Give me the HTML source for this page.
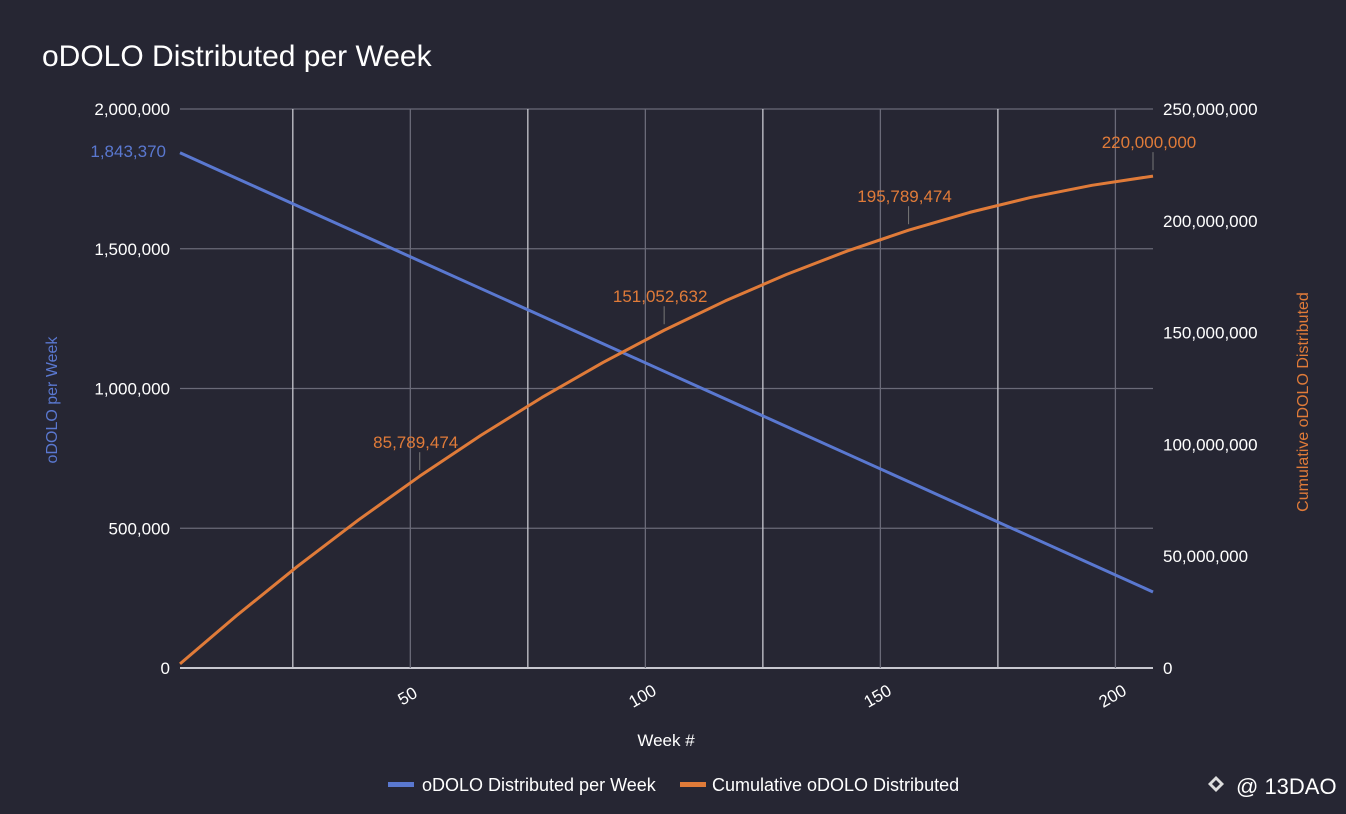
<!DOCTYPE html>
<html><head><meta charset="utf-8"><style>
body{margin:0;background:#262633;font-family:"Liberation Sans",sans-serif;}
svg{display:block}
</style></head><body>
<svg width="1346" height="814" viewBox="0 0 1346 814">
<rect width="1346" height="814" fill="#262633"/>
<text x="42" y="66" font-size="30" fill="#ffffff">oDOLO Distributed per Week</text>
<g id="grid"></g><g id="axes"></g><g id="series"></g><g id="labels"></g>
<text x="666" y="746" font-size="17" fill="#ffffff" text-anchor="middle">Week #</text>
<text transform="translate(57,400) rotate(-90)" font-size="16" fill="#5a78d0" text-anchor="middle">oDOLO per Week</text>
<text transform="translate(1308,402) rotate(-90)" font-size="16" fill="#e07b39" text-anchor="middle">Cumulative oDOLO Distributed</text>
<g>
<g><rect x="388" y="782" width="26" height="5" fill="#5a78d0"/><text x="422" y="791" font-size="18" fill="#ffffff">oDOLO Distributed per Week</text></g>
<g><rect x="680" y="782" width="26" height="5" fill="#e07b39"/><text x="712" y="791" font-size="18" fill="#ffffff">Cumulative oDOLO Distributed</text></g>
</g>
<g><path d="M1216 776 l8 8 l-8 8 l-8 -8z M1216 780 l4 4 l-4 4 l-4 -4z" fill="#ddd" fill-rule="evenodd"/><text x="1236" y="794" font-size="22" fill="#ffffff">@ 13DAO</text></g>
</svg>
<script>
const weeks=[1,13,26,39,52,65,78,91,104,117,130,143,156,169,182,195,208];
const weekly=[1843370,1752278,1653593,1554908,1456225,1357541,1258856,1160172,1061488,962803,864118,765434,666749,568064,469380,370695,272017];
const cumulative=[1843370,23371706,45460519,66266440,85789474,104029604,120986847,136661197,151052632,164162221,175986894,186529675,195789474,203766558,210460661,215872872,220000000];
const leftTicks=[0,500000,1000000,1500000,2000000];
const rightTicks=[0,50000000,100000000,150000000,200000000,250000000];
const xTicks=[50,100,150,200];
const gridWeeks=[25,50,75,100,125,150,175,200];
const annWeeks=[52,104,156,208];
const annValues=[85789474,151052632,195789474,220000000];

const NS="http://www.w3.org/2000/svg";
const X0=180,X1=1153,YT=109,YB=668;
const x=w=>X0+(w-1)*(X1-X0)/207;
const yL=v=>YB-v/2000000*(YB-YT);
const yR=v=>YB-v/250000000*(YB-YT);
const fmt=v=>v.toLocaleString('en-US');
function mk(tag,attrs,parent,txt){const e=document.createElementNS(NS,tag);for(const k in attrs)e.setAttribute(k,attrs[k]);if(txt!==undefined)e.textContent=txt;document.getElementById(parent).appendChild(e);return e;}
leftTicks.forEach(v=>{
 const l=mk('line',{x1:X0,x2:X1,y1:yL(v),y2:yL(v),stroke:v===0?'#c8c8d0':'#6a6a78','stroke-width':v===0?2:1.3},'grid');
 
 
 const t=mk('text',{x:170,y:yL(v)+6,'font-size':17,fill:'#fff','text-anchor':'end'},'axes',fmt(v));
 
 
});
rightTicks.forEach(v=>{
 const t=mk('text',{x:1163,y:yR(v)+6,'font-size':17,fill:'#fff'},'axes',fmt(v));
 
 
});
gridWeeks.forEach((w,i)=>{
 const l=mk('line',{x1:x(w),x2:x(w),y1:YT,y2:YB,stroke:i%2===0?'#c8c8d0':'#6a6a78','stroke-width':1.3},'grid');
 
 
});
xTicks.forEach(w=>{
 const t=mk('text',{x:0,y:0,'font-size':17,fill:'#fff','text-anchor':'middle',transform:`translate(${x(w)},${YB+33}) rotate(-30)`},'axes',w);
 
 
});
const p1=mk('polyline',{points:weeks.map((w,i)=>x(w)+','+yL(weekly[i])).join(' '),fill:'none',stroke:'#5a78d0','stroke-width':3},'series');


const p2=mk('polyline',{points:weeks.map((w,i)=>x(w)+','+yR(cumulative[i])).join(' '),fill:'none',stroke:'#e07b39','stroke-width':3,'stroke-linejoin':'round'},'series');


const t0=mk('text',{x:x(weeks[0])-14,y:yL(weekly[0])+4,'font-size':17,fill:'#5a78d0','text-anchor':'end'},'labels',fmt(weekly[0]));


annWeeks.forEach((w,i)=>{
 const px=x(w),py=yR(annValues[i]);
 const l=mk('line',{x1:px,x2:px,y1:py-24,y2:py-6,stroke:'#777','stroke-width':1},'labels');
 
 
 const t=mk('text',{x:px-4,y:py-28,'font-size':17,fill:'#e07b39','text-anchor':'middle'},'labels',fmt(annValues[i]));
 
 
});
</script>
</body></html>
